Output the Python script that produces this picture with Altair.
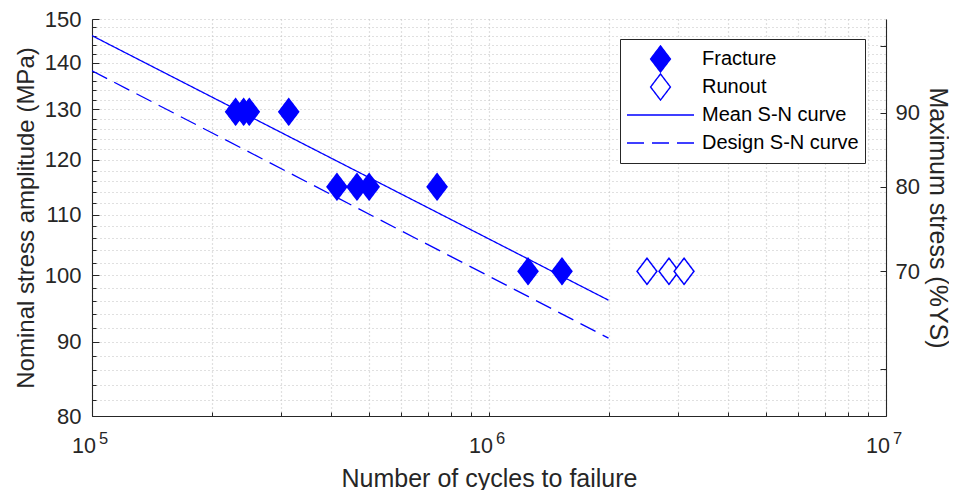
import altair as alt
import pandas as pd
import math

# ---- data ----
frac_n = [2.30e5, 2.41e5, 2.49e5, 3.13e5, 4.14e5, 4.65e5, 4.99e5, 7.40e5, 1.254e6, 1.527e6]
frac_s = [129.5, 129.5, 129.5, 129.5, 115.0, 115.0, 115.0, 115.0, 100.6, 100.6]
run_n = [2.50e6, 2.84e6, 3.10e6]
run_s = [100.6, 100.6, 100.6]
mean_n = [1e5, 2e6]
mean_s = [146.1, 96.1]
design_n = [1e5, 2e6]
design_s = [138.2, 90.5]

ys_ticks = [60, 70, 80, 90, 100]      # right axis (%YS) tick values
ys_labels = [70, 80, 90]             # labelled right-axis ticks
ys_per_mpa = 70 / 100.6               # %YS per MPa of amplitude

x_dom = [1e5, 1e7]
y_dom = [80, 150]
y_major = [80, 90, 100, 110, 120, 130, 140, 150]
y_minor = [v for v in range(82, 150, 2) if v % 10 != 0]
x_grid = [m * 10 ** e for e in (5, 6) for m in range(1, 10)] + [1e7]

names = ["Fracture", "Runout", "Mean S-N curve", "Design S-N curve"]

pts = pd.DataFrame({
    "n": frac_n + run_n,
    "s": frac_s + run_s,
    "series": [names[0]] * len(frac_n) + [names[1]] * len(run_n),
})
lines = pd.DataFrame({
    "n": mean_n + design_n,
    "s": mean_s + design_s,
    "series": [names[2]] * len(mean_n) + [names[3]] * len(design_n),
})
lines["ys"] = lines["s"] * ys_per_mpa

BLUE = "#0000ff"
INK = "#262626"
GRID = "#c2c2c2"
FONT = "Liberation Sans"
SYM = 4489  # symbol area: unit path spans sqrt(SYM)=67 px
diamond = "M0,-0.39L0.296,0L0,0.39L-0.296,0Z"
seg = "M-1,0L1,0"

xs = alt.Scale(type="log", domain=x_dom, nice=False)
ysc = alt.Scale(type="log", domain=y_dom, nice=False, zero=False)
rsc = alt.Scale(type="log", domain=[y_dom[0] * ys_per_mpa, y_dom[1] * ys_per_mpa], nice=False, zero=False)


def leg():
    return alt.Legend(title=None, orient="none", legendX=528, legendY=20)


stroke_enc = alt.Stroke("series:N", scale=alt.Scale(domain=names, range=[BLUE] * 4), legend=leg())
dash_enc = alt.StrokeDash("series:N", scale=alt.Scale(domain=names, range=[[1, 0], [1, 0], [1, 0], [17, 8]]), legend=leg())
fill_enc = alt.Fill("series:N", scale=alt.Scale(domain=names, range=[BLUE, "white", "transparent", "transparent"]), legend=leg())
shape_enc = alt.Shape("series:N", scale=alt.Scale(domain=names, range=[diamond, diamond, seg, seg]), legend=leg())

decade_test = "abs(log(datum.value)/LN10 - round(log(datum.value)/LN10)) < 1e-6"

# main axes: domain, grid, labels, titles
x_main = alt.Axis(
    values=x_grid, grid=True, gridColor=GRID, gridDash=[1, 3], gridWidth=1.2,
    ticks=False, domain=True, domainColor=INK, domainWidth=1.1,
    labelExpr=f"({decade_test}) ? '10' : ''", labelFont=FONT, labelFontSize=21.5,
    labelColor=INK, labelOffset=-8.5, labelPadding=19, labelFlush=False, labelOverlap=False,
    title="Number of cycles to failure", titleFont=FONT, titleFontSize=25,
    titleFontWeight="normal", titleColor=INK, titlePadding=10, orient="bottom",
)
y_main = alt.Axis(
    values=y_major + y_minor, grid=True, gridColor=GRID, gridDash=[1, 3], gridWidth=1.2,
    ticks=False, domain=True, domainColor=INK, domainWidth=1.1,
    labelExpr="datum.value % 10 == 0 ? datum.label : ''", labelFont=FONT, labelFontSize=22,
    labelColor=INK, labelPadding=11, labelFlush=False, labelOverlap=False,
    title="Nominal stress amplitude (MPa)", titleFont=FONT, titleFontSize=24,
    titleFontWeight="normal", titleColor=INK, titlePadding=6, orient="left",
)

line_layer = alt.Chart(lines).mark_line(strokeWidth=1.3, clip=True).encode(
    x=alt.X("n:Q", scale=xs, axis=x_main),
    y=alt.Y("s:Q", scale=ysc, axis=y_main),
    stroke=stroke_enc,
    strokeDash=dash_enc,
    detail="series:N",
)

point_layer = alt.Chart(pts).mark_point(size=SYM, strokeWidth=1.5, opacity=1).encode(
    x=alt.X("n:Q", scale=xs, axis=None),
    y=alt.Y("s:Q", scale=ysc, axis=None),
    stroke=stroke_enc,
    fill=fill_enc,
    shape=shape_enc,
    strokeDash=dash_enc,
)

# inward ticks (offset pulls the axis into the plot)
tick_a = alt.Chart(lines).mark_point(opacity=0).encode(
    x=alt.X("n:Q", scale=xs, axis=alt.Axis(
        orient="bottom", offset=-4, values=x_grid, domain=False, grid=False,
        ticks=True, tickSize=4, tickColor=INK, tickWidth=1,
        labelExpr=f"({decade_test}) ? format(round(log(datum.value)/LN10), 'd') : ''",
        labelFont=FONT, labelFontSize=16.5, labelColor=INK, labelOffset=11, labelPadding=14,
        labelFlush=False, labelOverlap=False, title=None)),
    y=alt.Y("s:Q", scale=ysc, axis=alt.Axis(
        orient="left", offset=-7, values=y_major, domain=False, grid=False,
        ticks=True, tickSize=7, tickColor=INK, tickWidth=1, labels=False, title=None)),
)
tick_b = alt.Chart(lines).mark_point(opacity=0).encode(
    x=alt.X("n:Q", scale=xs, axis=None),
    y=alt.Y("s:Q", scale=ysc, axis=alt.Axis(
        orient="left", offset=-4, values=y_minor, domain=False, grid=False,
        ticks=True, tickSize=4, tickColor=INK, tickWidth=1, labels=False, title=None)),
)

right_axis = alt.Chart(lines).mark_point(opacity=0).encode(
    x=alt.X("n:Q", scale=xs, axis=None),
    y=alt.Y("ys:Q", scale=rsc, axis=alt.Axis(
        orient="right", values=ys_labels, domain=True, domainColor=INK, domainWidth=1.1,
        grid=False, ticks=False, labelFont=FONT, labelFontSize=22, labelColor=INK,
        labelPadding=9, labelFlush=False, labelOverlap=False,
        title="Maximum stress (%YS)", titleFont=FONT, titleFontSize=25,
        titleFontWeight="normal", titleColor=INK, titlePadding=5)),
)
right_ticks = alt.Chart(lines).mark_point(opacity=0).encode(
    x=alt.X("n:Q", scale=xs, axis=None),
    y=alt.Y("ys:Q", scale=rsc, axis=alt.Axis(
        orient="right", offset=-6, values=ys_ticks, domain=False, grid=False,
        ticks=True, tickSize=6, tickColor=INK, tickWidth=1, labels=False, title=None)),
)

chart = alt.layer(
    line_layer, point_layer, tick_a, tick_b, right_axis, right_ticks
).resolve_scale(y="independent").resolve_axis(x="independent", y="independent").properties(
    width=794, height=397,
    background="white",
    autosize=alt.AutoSizeParams(type="none"),
    padding={"left": 84, "top": 11, "right": 63, "bottom": 74},
).configure_view(stroke=None).configure_legend(
    padding=6, fillColor="white", strokeColor=INK, strokeWidth=1,
    symbolSize=SYM, symbolStrokeWidth=1.4, labelFont=FONT, labelFontSize=20,
    labelColor="black", labelOffset=7, rowPadding=0, clipHeight=28, labelLimit=400,
)

chart.save("out.html", embed_options={"renderer": "svg", "actions": False})
